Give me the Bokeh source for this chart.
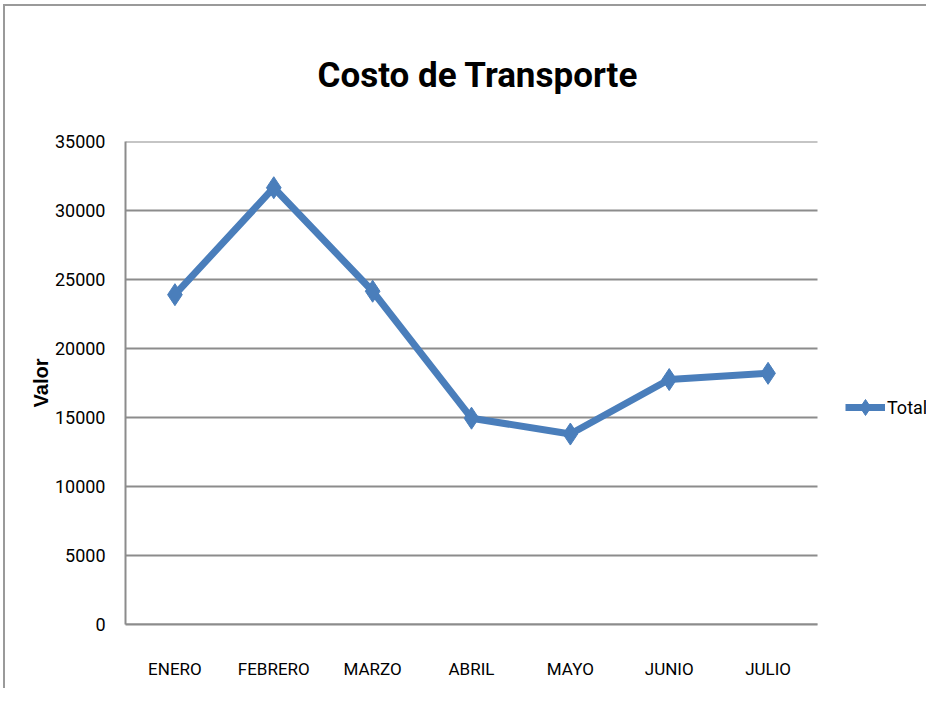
from bokeh.plotting import figure
from bokeh.models import FixedTicker, Range1d, Legend, LegendItem
from bokeh.embed import file_html
from bokeh.resources import INLINE

months = ["ENERO", "FEBRERO", "MARZO", "ABRIL", "MAYO", "JUNIO", "JULIO"]
totals = [23900, 31650, 24150, 14950, 13800, 17750, 18200]
y_ticks = [0, 5000, 10000, 15000, 20000, 25000, 30000, 35000]
series_name = "Total"
title_text = "Costo de Transporte"
y_label = "Valor"

BLUE = "#4A7EBB"
GRID = "#8C8C8C"
FONT = "Roboto"

# category slots (each month occupies one unit), plus room on the right for the legend
n = len(months)
x_pos = [i + 0.5 for i in range(n)]
PLOT_W = 692   # pixel width of the category area
FRAME_W = 801  # category area + legend area
x_end = n * FRAME_W / PLOT_W

p = figure(
    x_range=Range1d(0, x_end),
    y_range=Range1d(0, 35000),
    frame_width=FRAME_W, frame_height=483,
    output_backend="svg", toolbar_location=None,
    min_border_left=125, min_border_right=0,
    min_border_top=141, min_border_bottom=64,
    title=title_text,
)
p.styles = {"box-shadow": "inset 3px 4px 0 0 white, inset 5px 6px 0 0 #9a9a9a"}
p.outline_line_color = None
p.background_fill_color = None
p.border_fill_color = None

p.title.align = "left"
p.title.offset = 192
p.title.text_font = FONT
p.title.text_font_style = "bold"
p.title.text_font_size = "35px"
p.title.text_color = "black"
p.title.standoff = 92

# y axis
p.yaxis.ticker = FixedTicker(ticks=y_ticks)
p.yaxis.axis_label = y_label
p.yaxis.axis_label_text_font = "Liberation Sans"
p.yaxis.axis_label_text_font_style = "bold"
p.yaxis.axis_label_text_font_size = "20px"
p.yaxis.axis_label_text_color = "black"
p.yaxis.axis_label_standoff = 0
p.yaxis.major_label_text_font = FONT
p.yaxis.major_label_text_font_size = "18px"
p.yaxis.major_label_text_color = "black"
p.yaxis.major_label_standoff = 14
p.yaxis.major_tick_line_color = None
p.yaxis.minor_tick_line_color = None
p.yaxis.axis_line_color = GRID
p.yaxis.axis_line_width = 2

# x axis
p.xaxis.ticker = FixedTicker(ticks=x_pos)
p.xaxis.major_label_overrides = {x: m for x, m in zip(x_pos, months)}
p.xaxis.bounds = (0, n)
p.xaxis.major_label_text_font = FONT
p.xaxis.major_label_text_font_size = "17px"
p.xaxis.major_label_text_color = "black"
p.xaxis.major_label_standoff = 28
p.xaxis.major_tick_line_color = None
p.xaxis.minor_tick_line_color = None
p.xaxis.axis_line_color = GRID
p.xaxis.axis_line_width = 2

p.xgrid.grid_line_color = None
p.ygrid.grid_line_color = None

# horizontal gridlines spanning only the category area
p.segment(x0=[0] * len(y_ticks), x1=[n] * len(y_ticks), y0=y_ticks, y1=y_ticks,
          line_color=GRID, line_width=2)

ln = p.line(x=x_pos, y=totals, line_color=BLUE, line_width=7, line_join="round")
mk = p.scatter(x=x_pos, y=totals, marker="diamond", size=22,
               fill_color=BLUE, line_color=BLUE)

legend = Legend(
    items=[LegendItem(label=series_name, renderers=[ln, mk])],
    location=(720, 197),
    glyph_width=40, glyph_height=40,
    label_text_font=FONT, label_text_font_size="18px",
    label_text_color="black",
    label_standoff=2, padding=0, margin=0, spacing=0,
    border_line_color=None, background_fill_alpha=0,
)
p.add_layout(legend, "center")

with open("out.html", "w") as f:
    f.write(file_html(p, INLINE))
